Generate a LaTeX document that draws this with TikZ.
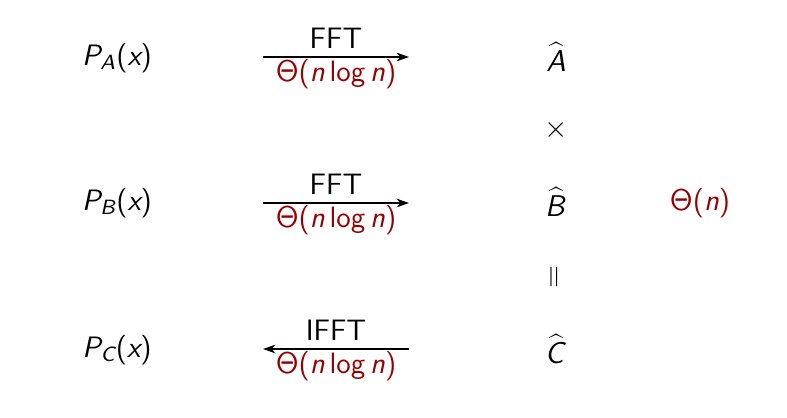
\documentclass[tikz,border=0pt]{standalone}
\usetikzlibrary{arrows.meta}
\DeclareMathAlphabet{\mathsfit}{OT1}{cmss}{m}{sl}
\definecolor{dred}{RGB}{150,0,0}
\newcommand{\sv}[1]{{\slshape #1}}
\newcommand{\thetaS}{$\mathsf{\Theta}$}
\newcommand{\cnlogn}{\thetaS(\sv{n}\,log\,\sv{n})}
\tikzset{
  lbl/.style={font=\fontsize{11.8}{14}\selectfont\sffamily, inner sep=0pt},
  cost/.style={lbl, text=dred},
  arr/.style={-{Stealth[length=5pt,width=3.5pt]}, line width=0.5pt}
}
\begin{document}
\begin{tikzpicture}[x=0.4pt,y=-0.4pt]
\useasboundingbox (0,0) rectangle (787,418);
% left polynomials
\node[lbl] (pa) at (117,58) {\sv{P}\textsubscript{\sv{A}}(\sv{x})};
\node[lbl] (pb) at (117,203) {\sv{P}\textsubscript{\sv{B}}(\sv{x})};
\node[lbl] (pc) at (117,350) {\sv{P}\textsubscript{\sv{C}}(\sv{x})};
% arrow endpoints
\coordinate (a1) at (263,57); \coordinate (a2) at (409,57);
\coordinate (b1) at (263,203); \coordinate (b2) at (409,203);
\coordinate (c1) at (263,349); \coordinate (c2) at (409,349);
\draw[arr] (a1) -- (a2);
\draw[arr] (b1) -- (b2);
\draw[arr] (c2) -- (c1);
\node[lbl] (fa) at (336,38) {FFT};
\node[cost] (ta) at (336,74) {\cnlogn};
\node[lbl] (fb) at (336,184) {FFT};
\node[cost] (tb) at (336,220) {\cnlogn};
\node[lbl] (fc) at (336,330) {IFFT};
\node[cost] (tc) at (336,366) {\cnlogn};
% right column
\node[lbl] (ha) at (556,57) {$\widehat{\mathsfit{A}}$};
\node[lbl] (times) at (556,130) {$\times$};
\node[lbl] (hb) at (556,202) {$\widehat{\mathsfit{B}}$};
\node[lbl, rotate=90] (eq) at (556,277) {$=$};
\node[lbl] (hc) at (556,349) {$\widehat{\mathsfit{C}}$};
\node[cost] (tn) at (700,203) {\thetaS(\sv{n})};
\end{tikzpicture}
\end{document}
